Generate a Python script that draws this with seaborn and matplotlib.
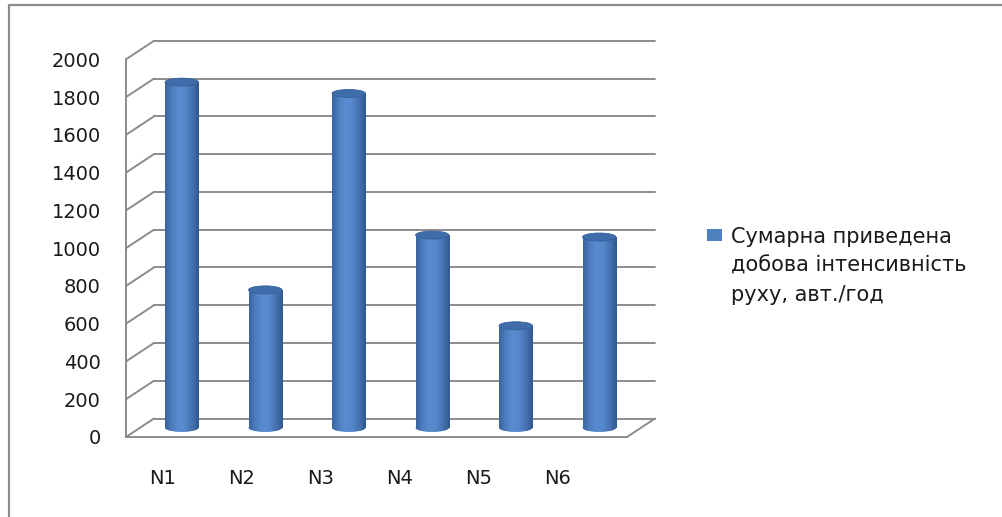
import numpy as np
import pandas as pd
import matplotlib
matplotlib.use("Agg")
import matplotlib.pyplot as plt
import matplotlib.transforms as mtransforms
from matplotlib.colors import LinearSegmentedColormap
from matplotlib.patches import Ellipse, Rectangle
from matplotlib.lines import Line2D
import seaborn as sns

# ---- data -------------------------------------------------------------
categories = ["N1", "N2", "N3", "N4", "N5", "N6"]
values = [1830, 730, 1770, 1020, 540, 1010]
series_label = "Сумарна приведена\nдобова інтенсивність\nруху, авт./год"
y_ticks = [0, 200, 400, 600, 800, 1000, 1200, 1400, 1600, 1800, 2000]

# ---- styling ----------------------------------------------------------
W, H, DPI = 1002, 517, 100
sns.set_style("white")
plt.rcParams["font.family"] = ["DejaVu Sans"]

GRID = "#8C8C8C"
BAR = "#4F81BD"
TEXT = "#1A1A1A"

fig = plt.figure(figsize=(W / DPI, H / DPI), dpi=DPI)

# front plane of the 3-D box, pixel coordinates (origin top-left)
L, R, B, T = 126, 627, 437, 59.3
ax = fig.add_axes([L / W, 1 - B / H, (R - L) / W, (B - T) / H])
ax.set_facecolor("none")

df = pd.DataFrame({"site": categories, "value": values})
sns.barplot(data=df, x="site", y="value", color=BAR, width=0.4,
            saturation=1, ax=ax, zorder=2)

n = len(categories)
XMIN, XMAX = -0.5, n - 0.5
YMAX = y_ticks[-1]

# depth of the box in pixels; bars stand half way in
DEPTH_X, DEPTH_Y = 28, 18.5
back = mtransforms.offset_copy(ax.transData, fig=fig, x=DEPTH_X, y=DEPTH_Y, units="dots")
mid = mtransforms.offset_copy(ax.transData, fig=fig, x=DEPTH_X / 2, y=DEPTH_Y / 2, units="dots")
px_x = (R - L) / (XMAX - XMIN)
px_y = (B - T) / YMAX
dx_d, dy_d = DEPTH_X / px_x, DEPTH_Y / px_y

# back wall gridlines and side-wall diagonals
for t in y_ticks:
    ax.add_line(Line2D([XMIN, XMAX], [t, t], transform=back, color=GRID,
                       lw=1.4, zorder=0, clip_on=False))
    ax.add_line(Line2D([XMIN, XMIN + dx_d], [t, t + dy_d], color=GRID,
                       lw=1.4, zorder=0, clip_on=False))
# right edge of the floor
ax.add_line(Line2D([XMAX, XMAX + dx_d], [0, dy_d], color=GRID,
                   lw=1.4, zorder=0, clip_on=False))

# cylinder shading
cyl = LinearSegmentedColormap.from_list(
    "cyl", ["#3A649D", "#4D7EC0", "#5A8CD1", "#5587CB", "#4673B0", "#30588E"])
grad = np.linspace(0, 1, 128).reshape(1, -1)
ell_h = 8 / px_y

for bar in list(ax.patches):
    x0, w, h = bar.get_x(), bar.get_width(), bar.get_height()
    bar.set_transform(mid)
    bar.set_edgecolor("none")
    bar.set_clip_on(False)
    body = ax.imshow(grad, cmap=cyl, aspect="auto", interpolation="bilinear",
                     extent=[x0, x0 + w, 0, h], transform=mid, zorder=2.1)
    body.set_clip_path(bar)
    base = Ellipse((x0 + w / 2, 0), w, ell_h, transform=mid,
                   facecolor=BAR, edgecolor="none", zorder=2)
    ax.add_patch(base)
    foot = ax.imshow(grad, cmap=cyl, aspect="auto", interpolation="bilinear",
                     extent=[x0, x0 + w, -ell_h / 2, ell_h / 2], transform=mid,
                     zorder=2.1)
    foot.set_clip_path(base)
    top = Ellipse((x0 + w / 2, h), w, ell_h, transform=mid,
                  facecolor="#3F6DAA", edgecolor="#35609A", lw=0.6, zorder=3)
    ax.add_patch(top)

ax.set_xlim(XMIN, XMAX)
ax.set_ylim(0, YMAX)

# axes frame
for side in ("top", "right"):
    ax.spines[side].set_visible(False)
for side in ("left", "bottom"):
    ax.spines[side].set_color(GRID)
    ax.spines[side].set_linewidth(1.4)
    ax.spines[side].set_zorder(1)

ax.set_yticks(y_ticks)
ax.set_yticklabels([str(t) for t in y_ticks])
ax.tick_params(axis="y", direction="out", length=6, width=1.4, color=GRID,
               pad=12, labelsize=14, labelcolor=TEXT)

# category labels, spaced with the slight perspective of the floor
LABEL_START, LABEL_STEP = -0.063, 0.947
ax.set_xticks([LABEL_START + LABEL_STEP * i for i in range(n)])
ax.set_xticklabels(categories)
ax.set_xticks(np.arange(XMIN, XMAX + 0.01, 1.0), minor=True)
ax.tick_params(axis="x", which="major", length=0, pad=23, labelsize=14,
               labelcolor=TEXT)
ax.tick_params(axis="x", which="minor", direction="out", length=4.5,
               width=1.4, color=GRID)
ax.set_xlabel("")
ax.set_ylabel("")

# legend
fig.add_artist(Rectangle((707 / W, 1 - 241 / H), 15 / W, 12 / H,
                         transform=fig.transFigure, facecolor=BAR,
                         edgecolor="none"))
fig.text(731 / W, 1 - 227 / H, series_label, ha="left", va="top",
         fontsize=15, color=TEXT, linespacing=1.55)

# chart area border (top and left edges)
fig.add_artist(Line2D([9 / W, 9 / W], [0, 1 - 5 / H], transform=fig.transFigure,
                      color=GRID, lw=1.6))
fig.add_artist(Line2D([9 / W, 1], [1 - 5 / H, 1 - 5 / H], transform=fig.transFigure,
                      color=GRID, lw=1.6))

fig.savefig("out.png", dpi=DPI)
